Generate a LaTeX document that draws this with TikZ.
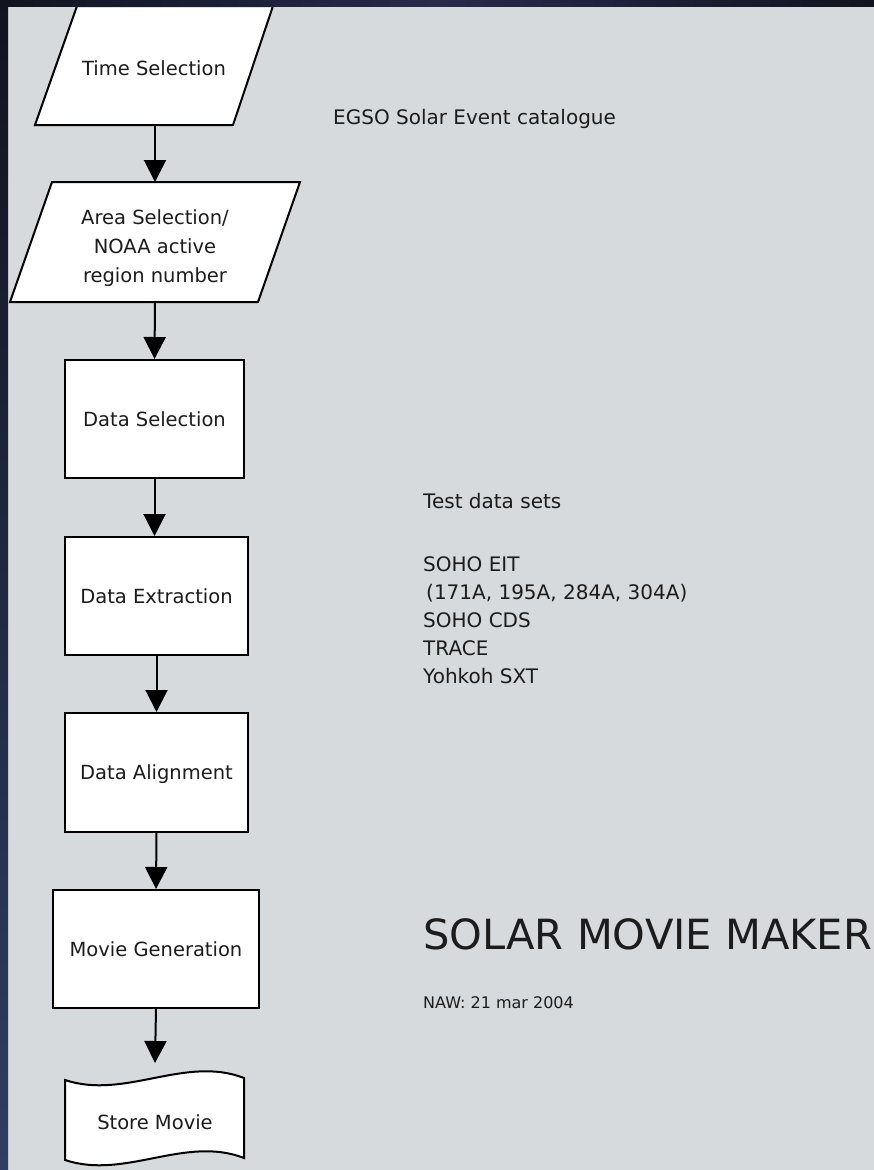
\documentclass[tikz,border=0pt]{standalone}
\usepackage{fontspec}
\setmainfont{DejaVu Sans}
\usetikzlibrary{arrows.meta}
\definecolor{pagegray}{HTML}{D6DADD}
\definecolor{inkc}{HTML}{1C1C1C}
\definecolor{bandA}{HTML}{11141F}
\definecolor{bandB}{HTML}{262B4C}
\definecolor{bandC}{HTML}{2F3E62}
\begin{document}
\begin{tikzpicture}[x=1pt,y=-1pt,
  shapeline/.style={draw=black, line width=2pt, fill=white, line join=miter},
  lbl/.style={font=\fontsize{19.5}{29}\selectfont, text=inkc, inner sep=0pt, text height=14pt, text depth=0pt},
  lblmulti/.style={font=\fontsize{19.5}{29}\selectfont, text=inkc, inner sep=0pt, align=center},
  procbox/.style={draw=black, line width=2pt, fill=white, inner sep=0pt,
    font=\fontsize{19.5}{29}\selectfont, text=inkc, text height=14pt, text depth=0pt,
    minimum height=118pt},
  arr/.style={draw=black, line width=2pt, -{Triangle[length=22pt,width=22pt]}},
  side/.style={font=\fontsize{20}{29}\selectfont, text=inkc, inner sep=0pt, anchor=base west},
]
\useasboundingbox (0,0) rectangle (874,1170);
\fill[pagegray] (0,0) rectangle (874,1170);

% Time Selection (input)
\draw[shapeline] (77,6) -- (273,6) -- (233,125) -- (35,125) -- cycle;
\node[lbl] (time) at (154,68) {Time Selection};
\coordinate (timeS) at (155,125);

% Area Selection (input)
\draw[shapeline] (52,182) -- (300,182) -- (258,302) -- (10,302) -- cycle;
\node[lblmulti] (area) at (155,248) {Area Selection/\\NOAA active\\region number};
\coordinate (areaN) at (155,182);
\coordinate (areaS) at (155,302);

% process boxes
\node[procbox, minimum width=179pt] (dsel) at (154.5,419) {Data Selection};
\node[procbox, minimum width=183pt] (dext) at (156.5,596) {Data Extraction};
\node[procbox, minimum width=183pt, minimum height=119pt] (dali) at (156.5,772.5) {Data Alignment};
\node[procbox, minimum width=206pt] (mgen) at (156,949) {Movie Generation};

% Store Movie (tape)
\draw[shapeline] (65,1080) .. controls (125,1100) and (185,1055) .. (244,1078)
  -- (244,1158) .. controls (185,1135) and (125,1180) .. (65,1160) -- cycle;
\node[lbl] (store) at (155,1122) {Store Movie};
\coordinate (storeN) at (155,1063);

% connectors
\draw[arr] (timeS) -- (areaN);
\draw[arr] (areaS) -- (dsel.north);
\draw[arr] (dsel.south) -- (dsel.south |- dext.north);
\draw[arr] (dext.south) -- (dali.north);
\draw[arr] (dali.south) -- (mgen.north);
\draw[arr] (mgen.south) -- (storeN);

% side texts
\node[side] (egso) at (333,124) {EGSO Solar Event catalogue};
\node[side] (tds) at (423,508) {Test data sets};
\node[side] (eit) at (423,571) {SOHO EIT};
\node[side] (waves) at (426,599) {(171A, 195A, 284A, 304A)};
\node[side] (cds) at (423,627) {SOHO CDS};
\node[side] (trace) at (423,655) {TRACE};
\node[side] (sxt) at (423,683) {Yohkoh SXT};
\node[side, font=\fontsize{41.6}{50}\selectfont] (title) at (423,949) {SOLAR MOVIE MAKER};
\node[side, font=\fontsize{16}{19}\selectfont] (naw) at (423,1008) {NAW: 21 mar 2004};

% dark frame bands
\shade[top color=bandA, bottom color=bandC] (0,0) rectangle (8,1170);
\shade[left color=bandA, right color=bandA, middle color=bandB] (0,0) rectangle (874,6);
\end{tikzpicture}
\end{document}
